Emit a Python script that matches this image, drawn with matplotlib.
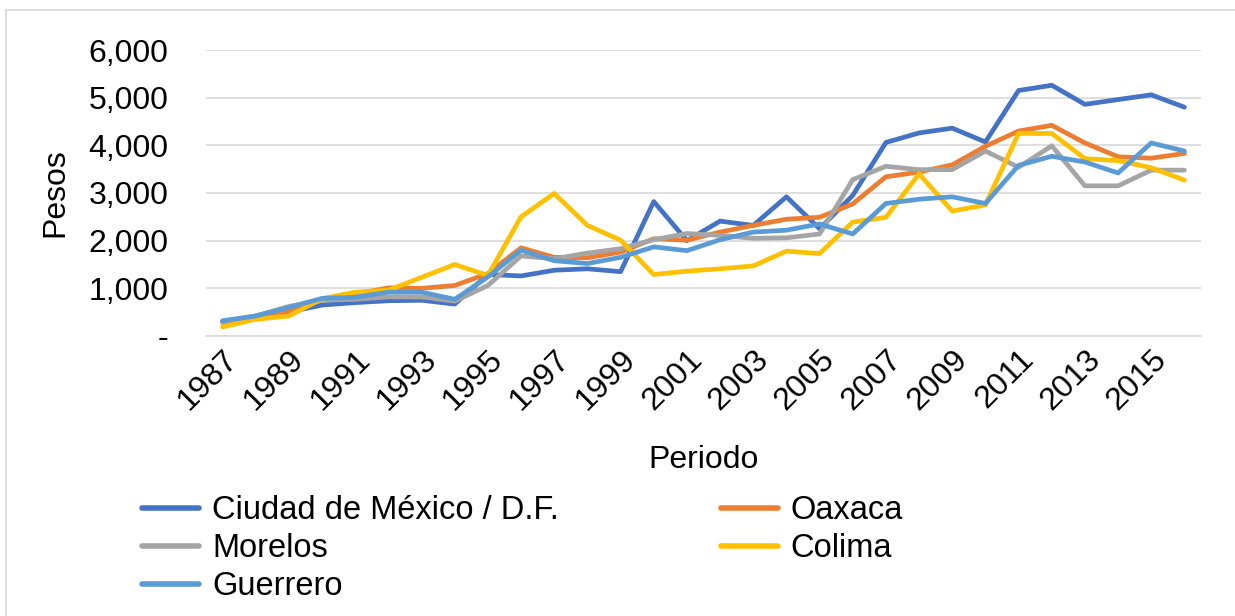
import matplotlib
matplotlib.use("Agg")
import matplotlib.pyplot as plt
from matplotlib.lines import Line2D
from matplotlib.ticker import FuncFormatter, FixedLocator

plt.rcParams['font.family'] = ['Liberation Sans', 'DejaVu Sans']

years = list(range(1987, 2017))
cdmx = [300, 400, 500, 650, 700, 740, 750, 670, 1290, 1260, 1380, 1410, 1350, 2820, 2000,
        2410, 2320, 2920, 2250, 2950, 4060, 4260, 4360, 4070, 5150, 5260, 4860, 4960, 5060, 4800]
oaxaca = [280, 420, 520, 780, 880, 1010, 1000, 1060, 1310, 1850, 1650, 1640, 1760, 2040, 2010,
          2180, 2320, 2450, 2490, 2770, 3340, 3440, 3590, 3980, 4300, 4420, 4050, 3760, 3730, 3830]
morelos = [300, 420, 620, 750, 770, 820, 820, 730, 1060, 1680, 1620, 1740, 1830, 2020, 2150,
           2110, 2050, 2060, 2140, 3280, 3560, 3490, 3490, 3880, 3540, 3990, 3150, 3150, 3480, 3480]
colima = [190, 350, 420, 780, 920, 960, 1230, 1500, 1270, 2500, 2990, 2320, 2010, 1290, 1360,
          1410, 1470, 1780, 1730, 2390, 2490, 3400, 2620, 2750, 4250, 4250, 3720, 3680, 3530, 3270]
guerrero = [320, 420, 600, 790, 810, 920, 920, 770, 1240, 1800, 1580, 1520, 1650, 1870, 1790,
            2020, 2180, 2220, 2350, 2140, 2780, 2870, 2920, 2780, 3580, 3770, 3650, 3420, 4050, 3880]

series = [
    ("Ciudad de México / D.F.", cdmx, "#4472C4"),
    ("Oaxaca", oaxaca, "#ED7D31"),
    ("Morelos", morelos, "#A5A5A5"),
    ("Colima", colima, "#FFC000"),
    ("Guerrero", guerrero, "#5B9BD5"),
]
y_ticks = [0, 1000, 2000, 3000, 4000, 5000, 6000]
x_label = "Periodo"
y_label = "Pesos"

W, H = 1235, 616
FS = 23
fig = plt.figure(figsize=(W / 100, H / 100), dpi=100)
ax = fig.add_axes([206 / W, 1 - 336 / H, (1201 - 206) / W, (336 - 50) / H])

xpos = list(range(len(years)))
handles = {}
for name, vals, col in series:
    ln, = ax.plot(xpos, vals, color=col, lw=3.4, solid_joinstyle='round',
                  solid_capstyle='round', zorder=3)
    handles[name] = ln

ax.set_xlim(-0.5, len(years) - 0.5)
ax.set_ylim(0, 6000)
ax.yaxis.set_major_locator(FixedLocator(y_ticks))
ax.yaxis.set_major_formatter(FuncFormatter(lambda v, p: "-" if v == 0 else f"{int(v):,}"))
ax.grid(axis='y', color='#D9D9D9', lw=1.2, zorder=0)
for s in ['top', 'right', 'left']:
    ax.spines[s].set_visible(False)
ax.spines['bottom'].set_color('#D9D9D9')
ax.spines['bottom'].set_linewidth(1.2)

lab_idx = xpos[::2]
ax.set_xticks(lab_idx)
ax.set_xticklabels([str(years[i]) for i in lab_idx], rotation=45, ha='right',
                   va='top', rotation_mode='anchor')
ax.tick_params(axis='x', length=0, pad=6, labelsize=FS)
ax.tick_params(axis='y', length=0, pad=27, labelsize=FS)

ax.set_ylabel(y_label, fontsize=FS)
ax.yaxis.set_label_coords((70 - 206) / 995, 0.5)
fig.text(703.5 / W, 1 - 460 / H, x_label, fontsize=FS, ha='center', va='center')

order = ["Ciudad de México / D.F.", "Morelos", "Guerrero", "Oaxaca", "Colima"]
leg = fig.legend([handles[n] for n in order], order, ncol=2, loc='upper left',
                 bbox_to_anchor=(142 / W, 1 - 495 / H), frameon=False, fontsize=23.5,
                 handlelength=1.75, handletextpad=0.4, columnspacing=4.95,
                 labelspacing=0.22, borderpad=0, borderaxespad=0)
for lh in leg.get_lines():
    lh.set_linewidth(4.0)

# chart area border
fig.add_artist(Line2D([6 / W, 1], [1 - 10 / H, 1 - 10 / H], color='#D9D9D9', lw=1.2))
fig.add_artist(Line2D([6 / W, 6 / W], [0, 1 - 10 / H], color='#D9D9D9', lw=1.2))

fig.savefig("out.png", dpi=100)
